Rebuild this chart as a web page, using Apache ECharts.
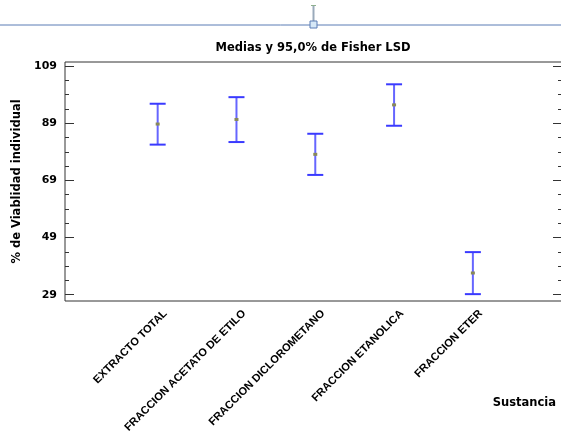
<!DOCTYPE html>
<html><head><meta charset="utf-8">
<script src="https://cdn.jsdelivr.net/npm/echarts@6/dist/echarts.min.js"></script>
<style>html,body{margin:0;padding:0;background:#fff}#c{width:561px;height:432px}</style>
</head><body><div id="c"></div><script>
const categories = ['EXTRACTO TOTAL', 'FRACCION ACETATO DE ETILO', 'FRACCION DICLOROMETANO', 'FRACCION ETANOLICA', 'FRACCION ETER'];
const means = [88.7, 90.3, 78.1, 95.4, 36.6];
const lowerLimits = [81.5, 82.4, 70.9, 88.1, 29.2];
const upperLimits = [95.8, 98.1, 85.3, 102.6, 43.9];
const yTickLabels = [29, 49, 69, 89, 109];
const yMinorTicks = [29, 34, 39, 44, 49, 54, 59, 64, 69, 74, 79, 84, 89, 94, 99, 104, 109];
const xPositions = [1, 2, 3, 4, 5];
const yMin = 26.8, yMax = 110.4;
const xMin = -0.176, xMax = 6.131;

const boldDV = {fontFamily: 'DejaVu Sans', fontWeight: 'bold', color: '#000'};
const seriesData = categories.map((c, i) => [xPositions[i], means[i], lowerLimits[i], upperLimits[i]]);

function tickAxis(pos, major) {
  return {
    type: 'value', position: pos, min: yMin, max: yMax,
    axisLine: {show: false}, splitLine: {show: false},
    axisTick: {show: true, inside: true, length: major ? 9 : 4,
      customValues: major ? yTickLabels : yMinorTicks,
      lineStyle: {color: '#333', width: 1}},
    axisLabel: {show: false}
  };
}
const labelAxis = {
  type: 'value', position: 'left', min: yMin, max: yMax,
  name: '% de Viablidad individual', nameLocation: 'middle', nameGap: 41,
  nameTextStyle: Object.assign({fontSize: 11.5}, boldDV),
  axisLine: {show: false}, axisTick: {show: false}, splitLine: {show: false},
  axisLabel: {customValues: yTickLabels, margin: 8,
    fontFamily: 'DejaVu Sans', fontWeight: 'bold', fontSize: 11, color: '#000'}
};

const chart = echarts.init(document.getElementById('c'), null, {renderer: 'canvas'});
chart.setOption({
  animation: false,
  backgroundColor: '#fff',
  title: [
    {text: 'Medias y 95,0% de Fisher LSD', left: 313, top: 42, textAlign: 'center', padding: 0,
      textStyle: Object.assign({fontSize: 11.5}, boldDV)},
    {text: 'Sustancia', right: 5, top: 397, padding: 0,
      textStyle: Object.assign({fontSize: 11.5}, boldDV)}
  ],
  grid: {left: 65, top: 62, width: 497, height: 239, show: true, borderColor: '#333', borderWidth: 1,
    containLabel: false, outerBoundsMode: 'none'},
  xAxis: {
    type: 'value', min: xMin, max: xMax,
    axisLine: {show: false}, axisTick: {show: false}, splitLine: {show: false},
    axisLabel: {customValues: xPositions, rotate: 45, margin: 3, verticalAlign: 'top', lineHeight: 22,
      formatter: v => categories[Math.round(v) - 1],
      fontFamily: 'Liberation Sans', fontWeight: 'bold', fontSize: 11, color: '#000'}
  },
  yAxis: [labelAxis, tickAxis('left', true), tickAxis('left', false), tickAxis('right', true), tickAxis('right', false)],
  series: [{
    type: 'custom',
    xAxisIndex: 0, yAxisIndex: 0,
    data: seriesData,
    encode: {x: 0, y: [1, 2, 3]},
    renderItem: function (params, api) {
      const x = api.value(0);
      const pm = api.coord([x, api.value(1)]);
      const pl = api.coord([x, api.value(2)]);
      const pu = api.coord([x, api.value(3)]);
      const hw = 8;
      return {type: 'group', children: [
        {type: 'line', shape: {x1: pu[0], y1: pu[1], x2: pl[0], y2: pl[1]}, style: {stroke: '#6666ff', lineWidth: 2}},
        {type: 'line', shape: {x1: pu[0] - hw, y1: pu[1], x2: pu[0] + hw, y2: pu[1]}, style: {stroke: '#3a3aff', lineWidth: 2}},
        {type: 'line', shape: {x1: pl[0] - hw, y1: pl[1], x2: pl[0] + hw, y2: pl[1]}, style: {stroke: '#3a3aff', lineWidth: 2}},
        {type: 'rect', shape: {x: pm[0] - 2, y: pm[1] - 1.5, width: 4, height: 3}, style: {fill: '#88885a'}}
      ]};
    }
  }],
  graphic: [
    {type: 'line', shape: {x1: 0, y1: 25, x2: 561, y2: 25}, style: {stroke: '#5a7db5', lineWidth: 1}},
    {type: 'line', shape: {x1: 313.5, y1: 6, x2: 313.5, y2: 21}, style: {stroke: '#9aaabb', lineWidth: 2}},
    {type: 'line', shape: {x1: 311, y1: 5.5, x2: 316, y2: 5.5}, style: {stroke: '#8fb08f', lineWidth: 1}},
    {type: 'rect', shape: {x: 310, y: 21, width: 7, height: 7}, style: {fill: '#d6e8f7', stroke: '#5a7db5', lineWidth: 1}}
  ]
});
</script></body></html>
